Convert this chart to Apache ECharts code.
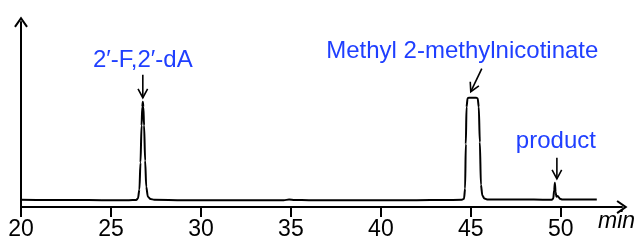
<!DOCTYPE html>
<html>
<head>
<meta charset="utf-8">
<script src="https://cdn.jsdelivr.net/npm/echarts@6/dist/echarts.min.js"></script>
<style>
  html, body { margin: 0; padding: 0; background: #fff; }
  #chart { width: 635px; height: 244px; }
</style>
</head>
<body>
<div id="chart"></div>
<script>
// retention time (min) and detector signal
var times = [20.0, 21.5, 23.0, 24.5, 26.0, 26.40, 26.50, 26.58, 26.64, 26.70, 26.74, 26.77, 26.80, 26.84, 26.90, 26.96, 27.05, 27.20, 27.40,
  29.0, 31.0, 33.0, 34.6, 34.9, 35.2, 36.0, 38.0, 40.0, 42.0, 43.5, 44.50, 44.62, 44.68, 44.72, 44.76, 44.82, 44.90, 45.10, 45.30, 45.38,
  45.44, 45.50, 45.56, 45.64, 45.75, 45.95, 47.0, 48.5, 49.50, 49.58, 49.63, 49.67, 49.71, 49.76, 49.82, 49.88, 49.95, 50.10, 51.0, 52.0];
var signal = [3.9, 3.8, 3.8, 3.7, 3.7, 3.8, 4.6, 9.5, 24, 44, 54, 56.9, 54, 44, 25, 11, 5.6, 4.3, 3.9,
  3.7, 3.7, 3.6, 3.7, 4.0, 3.8, 3.7, 3.6, 3.7, 3.7, 3.8, 3.9, 4.5, 10, 34, 54, 58.8, 59.1, 59.1, 59.1, 58.7,
  54, 35, 12, 6.2, 4.6, 4.0, 4.1, 4.0, 3.9, 4.6, 9, 13.1, 8, 5.5, 6.0, 5.3, 4.4, 4.0, 4.0, 4.0];

var xTicks = [20, 25, 30, 35, 40, 45, 50];

var peakNames = ['2\u2032-F,2\u2032-dA', 'Methyl 2-methylnicotinate', 'product'];
var peakTimes = [26.77, 45.08, 49.67];
var peakHeights = [56.9, 59.1, 13.1];

var chart = echarts.init(document.getElementById('chart'));

var points = [];
for (var i = 0; i < times.length; i++) {
  points.push([times[i], signal[i]]);
}

// open arrow head pointing up, used at axis ends
var chevron = 'path://M0,10 L7,0 L14,10 L12.3,11.2 L7,3.6 L1.7,11.2 Z';
var fontFam = '"Liberation Sans", Arial, sans-serif';
var blue = '#1f3fff';

var option = {
  animation: false,
  grid: { left: 21, right: 13, top: 22, bottom: 37, outerBoundsMode: 'none' },
  xAxis: {
    type: 'value',
    min: 20,
    max: 53.4,
    interval: 5,
    name: 'min',
    nameLocation: 'end',
    nameGap: -24,
    nameTextStyle: { fontStyle: 'italic', fontSize: 23, color: '#000', fontFamily: fontFam, verticalAlign: 'top', padding: [3, 0, 0, 0] },
    axisLine: { show: true, symbol: ['none', chevron], symbolSize: [14, 11], lineStyle: { color: '#000', width: 2 } },
    axisTick: { show: true, length: 10, customValues: xTicks, lineStyle: { color: '#000', width: 2 } },
    axisLabel: { customValues: xTicks, fontSize: 23, color: '#000', fontFamily: fontFam, margin: 11 },
    splitLine: { show: false }
  },
  yAxis: {
    type: 'value',
    min: 0,
    max: 100,
    axisLine: { show: true, symbol: ['none', chevron], symbolSize: [14, 11], lineStyle: { color: '#000', width: 2 } },
    axisTick: { show: false },
    axisLabel: { show: false },
    splitLine: { show: false }
  },
  series: [{
    type: 'line',
    data: points,
    showSymbol: false,
    smooth: 0.3,
    smoothMonotone: 'x',
    silent: true,
    lineStyle: { color: '#000', width: 2 }
  }]
};
chart.setOption(option);

// label + arrow offsets (px) from each peak top
var annot = [
  { text: [0, -41], from: [0, -27], to: [0, -4] },
  { text: [-10, -46], from: [9.5, -29], to: [-1.5, -6] },
  { text: [1, -41], from: [2, -25], to: [2, -4] }
];

var graphics = [];
for (var k = 0; k < peakNames.length; k++) {
  var p = chart.convertToPixel({ gridIndex: 0 }, [peakTimes[k], peakHeights[k]]);
  var a = annot[k];
  var x1 = p[0] + a.from[0], y1 = p[1] + a.from[1];
  var x2 = p[0] + a.to[0], y2 = p[1] + a.to[1];
  var ang = Math.atan2(y1 - y2, x1 - x2);
  var hl = 10, spread = 0.5;
  graphics.push({
    type: 'text',
    style: { text: peakNames[k], x: p[0] + a.text[0], y: p[1] + a.text[1], fill: blue, fontSize: 24, fontFamily: fontFam, align: 'center', verticalAlign: 'middle' }
  });
  graphics.push({
    type: 'polyline',
    shape: { points: [[x1, y1], [x2, y2]] },
    style: { stroke: '#000', lineWidth: 1.6, fill: null }
  });
  graphics.push({
    type: 'polyline',
    shape: { points: [
      [x2 + hl * Math.cos(ang + spread), y2 + hl * Math.sin(ang + spread)],
      [x2, y2],
      [x2 + hl * Math.cos(ang - spread), y2 + hl * Math.sin(ang - spread)]
    ] },
    style: { stroke: '#000', lineWidth: 1.6, fill: null }
  });
}
chart.setOption({ graphic: graphics });
</script>
</body>
</html>
